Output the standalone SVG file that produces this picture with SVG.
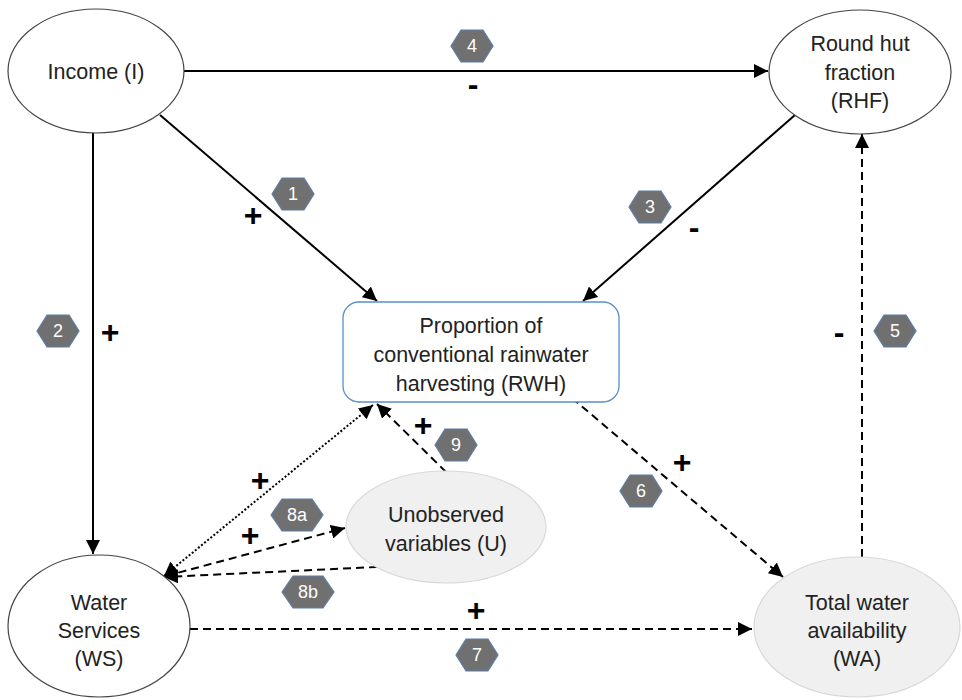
<svg xmlns="http://www.w3.org/2000/svg" width="962" height="700" viewBox="0 0 962 700">
<style>
.node{fill:#fff;stroke:#444;stroke-width:1.2}
.gray{fill:#f0f0f0;stroke:#d8d8d8;stroke-width:1.2}
.rwh{fill:#fff;stroke:#5b8ec8;stroke-width:1.3}
.lbl{font-family:"Liberation Sans",Arial,sans-serif;font-size:21.5px;fill:#222;text-anchor:middle}
.sign{font-family:"Liberation Sans",Arial,sans-serif;font-size:32px;font-weight:bold;fill:#000;text-anchor:middle}
.hex{fill:#707070;stroke:#5b7fa8;stroke-width:1.2}
.hext{font-family:"Liberation Sans",Arial,sans-serif;font-size:18px;fill:#fff;text-anchor:middle}
.solid{stroke:#000;stroke-width:2;fill:none}
.dash{stroke:#000;stroke-width:2;fill:none;stroke-dasharray:8 5}
.dot{stroke:#000;stroke-width:2;fill:none;stroke-dasharray:2 2}
</style>
<defs>
<marker id="ah" viewBox="0 0 10 10" refX="10" refY="5" markerWidth="7" markerHeight="7" markerUnits="strokeWidth" orient="auto-start-reverse">
<path d="M0,0 L10,5 L0,10 z" fill="#000"/>
</marker>
<polygon id="hx" points="-21,0 -11,-16 11,-16 21,0 11,16 -11,16"/>
<polygon id="hxw" points="-26,0 -15,-16 15,-16 26,0 15,16 -15,16"/>
</defs>

<g id="connectors">
<line class="solid" x1="184" y1="71" x2="768" y2="71" marker-end="url(#ah)"/>
<line class="solid" x1="93" y1="133" x2="93" y2="554" marker-end="url(#ah)"/>
<line class="solid" x1="160" y1="115" x2="377" y2="301" marker-end="url(#ah)"/>
<line class="solid" x1="795" y1="115" x2="583" y2="301" marker-end="url(#ah)"/>
<line class="dash" x1="862" y1="557" x2="862" y2="134" marker-end="url(#ah)"/>
<line class="dash" x1="572" y1="398" x2="783" y2="577" marker-end="url(#ah)"/>
<line class="dash" x1="190" y1="629" x2="752" y2="629" marker-end="url(#ah)"/>
<line class="dash" x1="446" y1="472" x2="377" y2="404" marker-end="url(#ah)"/>
<line class="dot" x1="164" y1="576" x2="373" y2="405" marker-start="url(#ah)" marker-end="url(#ah)"/>
<line class="dash" x1="166" y1="576" x2="345" y2="528" marker-end="url(#ah)"/>
<line class="dash" x1="377" y1="567" x2="164" y2="577" marker-end="url(#ah)"/>
</g>

<g id="node-income">
<ellipse class="node" cx="96" cy="71" rx="88" ry="62"/>
<text class="lbl" x="96" y="79">Income (I)</text>
</g>
<g id="node-rhf">
<ellipse class="node" cx="860" cy="72" rx="91" ry="62"/>
<text class="lbl" x="860" y="51">Round hut</text>
<text class="lbl" x="860" y="80">fraction</text>
<text class="lbl" x="860" y="108">(RHF)</text>
</g>
<g id="node-rwh">
<rect class="rwh" x="343" y="302" width="276" height="100" rx="16"/>
<text class="lbl" x="481" y="333">Proportion of</text>
<text class="lbl" x="481" y="362">conventional rainwater</text>
<text class="lbl" x="481" y="391">harvesting (RWH)</text>
</g>
<g id="node-u">
<ellipse class="gray" cx="446" cy="527" rx="100" ry="56"/>
<text class="lbl" x="446" y="522">Unobserved</text>
<text class="lbl" x="446" y="551">variables (U)</text>
</g>
<g id="node-ws">
<ellipse class="node" cx="99" cy="626" rx="91" ry="71"/>
<text class="lbl" x="99" y="610">Water</text>
<text class="lbl" x="99" y="638">Services</text>
<text class="lbl" x="99" y="666">(WS)</text>
</g>
<g id="node-wa">
<ellipse class="gray" cx="857" cy="627" rx="103" ry="70"/>
<text class="lbl" x="857" y="610">Total water</text>
<text class="lbl" x="857" y="638">availability</text>
<text class="lbl" x="857" y="666">(WA)</text>
</g>

<g id="signs">
<text class="sign" x="253" y="226">+</text>
<text class="sign" x="110" y="343">+</text>
<text class="sign" x="694" y="238">-</text>
<text class="sign" x="473" y="95">-</text>
<text class="sign" x="839" y="343">-</text>
<text class="sign" x="682" y="473">+</text>
<text class="sign" x="476" y="621">+</text>
<text class="sign" x="250" y="546">+</text>
<text class="sign" x="260" y="491">+</text>
<text class="sign" x="423" y="436">+</text>
</g>

<g id="badges">
<g transform="translate(293,194)"><use href="#hx" class="hex"/><text class="hext" y="6">1</text></g>
<g transform="translate(58,331)"><use href="#hx" class="hex"/><text class="hext" y="6">2</text></g>
<g transform="translate(650,207)"><use href="#hx" class="hex"/><text class="hext" y="6">3</text></g>
<g transform="translate(472,46)"><use href="#hx" class="hex"/><text class="hext" y="6">4</text></g>
<g transform="translate(895,331)"><use href="#hx" class="hex"/><text class="hext" y="6">5</text></g>
<g transform="translate(641,491)"><use href="#hx" class="hex"/><text class="hext" y="6">6</text></g>
<g transform="translate(477,655)"><use href="#hx" class="hex"/><text class="hext" y="6">7</text></g>
<g transform="translate(297,515)"><use href="#hxw" class="hex"/><text class="hext" y="6">8a</text></g>
<g transform="translate(308,592)"><use href="#hxw" class="hex"/><text class="hext" y="6">8b</text></g>
<g transform="translate(456,445)"><use href="#hx" class="hex"/><text class="hext" y="6">9</text></g>
</g>
</svg>
